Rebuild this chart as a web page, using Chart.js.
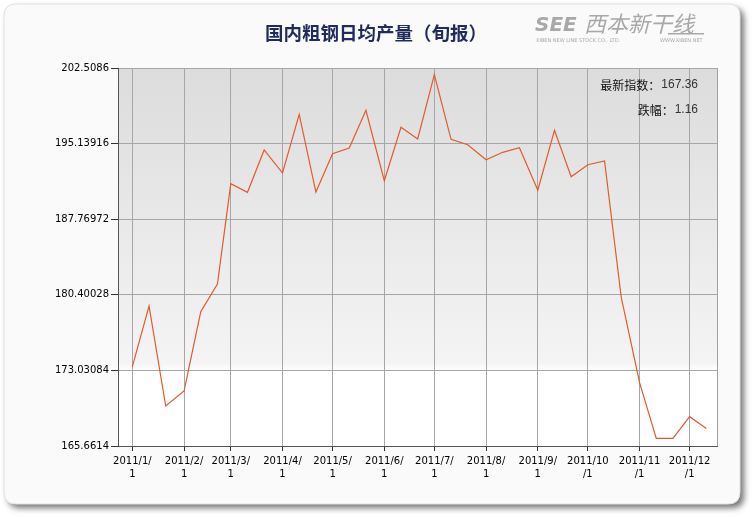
<!DOCTYPE html>
<html>
<head>
<meta charset="utf-8">
<script src="https://cdn.jsdelivr.net/npm/chart.js@4/dist/chart.umd.min.js"></script>
<style>
html,body{margin:0;padding:0;background:#fff;}
#wrap{width:752px;height:517px;position:relative;}
</style>
</head>
<body>
<div id="wrap"><canvas id="c" width="752" height="517"></canvas></div>
<script>
// ---- data ----
const chartTitle = '国内粗钢日均产量（旬报）';
const dates = [
  '2011-01-01','2011-01-11','2011-01-21',
  '2011-02-01','2011-02-11','2011-02-21',
  '2011-03-01','2011-03-11','2011-03-21',
  '2011-04-01','2011-04-11','2011-04-21',
  '2011-05-01','2011-05-11','2011-05-21',
  '2011-06-01','2011-06-11','2011-06-21',
  '2011-07-01','2011-07-11','2011-07-21',
  '2011-08-01','2011-08-11','2011-08-21',
  '2011-09-01','2011-09-11','2011-09-21',
  '2011-10-01','2011-10-11','2011-10-21',
  '2011-11-01','2011-11-11','2011-11-21',
  '2011-12-01','2011-12-11'
];
const output = [
  173.39, 179.31, 169.56,
  171.02, 178.75, 181.45,
  191.23, 190.39, 194.52,
  192.27, 197.99, 190.42,
  194.16, 194.71, 198.39,
  191.52, 196.73, 195.59,
  201.86, 195.56, 195.03,
  193.57, 194.29, 194.74,
  190.59, 196.44, 191.91,
  193.08, 193.44, 180.16,
  171.83, 166.41, 166.41,
  168.52, 167.36
];
const yTickValues = [165.6614, 173.03084, 180.40028, 187.76972, 195.13916, 202.5086];
const yTickLabels = ['165.6614', '173.03084', '180.40028', '187.76972', '195.13916', '202.5086'];
const xTickDates = ['2011-01-01','2011-02-01','2011-03-01','2011-04-01','2011-05-01','2011-06-01',
                    '2011-07-01','2011-08-01','2011-09-01','2011-10-01','2011-11-01','2011-12-01'];
const xTickLabels = [
  ['2011/1/','1'],['2011/2/','1'],['2011/3/','1'],['2011/4/','1'],['2011/5/','1'],['2011/6/','1'],
  ['2011/7/','1'],['2011/8/','1'],['2011/9/','1'],['2011/10','/1'],['2011/11','/1'],['2011/12','/1']
];
const latestLabel = '最新指数：';
const latestValue = '167.36';
const changeLabel = '跌幅：';
const changeValue = '1.16';

// ---- helpers ----
const base = Date.UTC(2011, 0, 1);
function dayNum(s){ const p = s.split('-').map(Number); return (Date.UTC(p[0], p[1]-1, p[2]) - base) / 86400000; }
const points = dates.map((d, i) => ({ x: dayNum(d), y: output[i] }));
const xTickDays = xTickDates.map(dayNum);

function roundRect(ctx, x, y, w, h, r){
  ctx.beginPath();
  ctx.moveTo(x+r, y);
  ctx.lineTo(x+w-r, y); ctx.quadraticCurveTo(x+w, y, x+w, y+r);
  ctx.lineTo(x+w, y+h-r); ctx.quadraticCurveTo(x+w, y+h, x+w-r, y+h);
  ctx.lineTo(x+r, y+h); ctx.quadraticCurveTo(x, y+h, x, y+h-r);
  ctx.lineTo(x, y+r); ctx.quadraticCurveTo(x, y, x+r, y);
  ctx.closePath();
}

const decor = {
  id: 'decor',
  beforeDraw(chart){
    const ctx = chart.ctx, a = chart.chartArea;
    ctx.save();
    ctx.fillStyle = '#ffffff';
    ctx.fillRect(0, 0, chart.width, chart.height);
    // panel with shadow
    ctx.shadowColor = 'rgba(0,0,0,0.55)';
    ctx.shadowBlur = 6;
    ctx.shadowOffsetX = 4;
    ctx.shadowOffsetY = 4;
    roundRect(ctx, 4, 4, 736, 500, 12);
    ctx.fillStyle = '#fafafa';
    ctx.fill();
    ctx.shadowColor = 'transparent';
    ctx.strokeStyle = '#e2e2e2';
    ctx.lineWidth = 1;
    ctx.stroke();
    // plot background gradient
    const g = ctx.createLinearGradient(0, a.top, 0, a.bottom);
    g.addColorStop(0, '#dcdcdc');
    g.addColorStop(0.78, '#f4f4f4');
    g.addColorStop(0.80, '#ffffff');
    g.addColorStop(1, '#ffffff');
    ctx.fillStyle = g;
    ctx.fillRect(a.left, a.top, a.right - a.left, a.bottom - a.top);
    ctx.restore();
  },
  afterDraw(chart){
    const ctx = chart.ctx, a = chart.chartArea;
    ctx.save();
    // right border
    ctx.strokeStyle = '#a0a0a0';
    ctx.lineWidth = 1;
    ctx.beginPath();
    ctx.moveTo(Math.round(a.right) + 0.5, a.top);
    ctx.lineTo(Math.round(a.right) + 0.5, a.bottom);
    ctx.stroke();
    // title
    ctx.fillStyle = '#1f2b5e';
    ctx.font = 'bold 18.5px "Noto Sans CJK SC"';
    ctx.textAlign = 'center';
    ctx.textBaseline = 'middle';
    ctx.fillText(chartTitle, 376, 33);
    // annotations
    ctx.textAlign = 'right';
    ctx.textBaseline = 'middle';
    const vx = 698;
    ctx.font = '12px "Liberation Sans"';
    const w1 = ctx.measureText(latestValue).width;
    const w2 = ctx.measureText(changeValue).width;
    ctx.fillStyle = '#333';
    ctx.fillText(latestValue, vx, 85);
    ctx.fillText(changeValue, vx, 110);
    ctx.font = '12px "Noto Sans CJK SC"';
    ctx.fillStyle = '#111';
    ctx.fillText(latestLabel, vx - w1 - 1, 85);
    ctx.fillText(changeLabel, vx - w2 - 1, 110);
    // logo
    ctx.fillStyle = '#a8a8a8';
    ctx.textAlign = 'left';
    ctx.textBaseline = 'alphabetic';
    ctx.font = 'italic bold 20px "DejaVu Sans"';
    ctx.fillText('SEE', 535, 31);
    ctx.font = 'italic 22px "Noto Sans CJK SC"';
    ctx.fillText('西本新干线', 584, 32);
    ctx.fillRect(668, 33, 36, 1.5);
    ctx.font = '5px "DejaVu Sans"';
    ctx.fillText('XIBEN NEW LINE STOCK CO., LTD.', 536, 42);
    ctx.fillText('WWW.XIBEN.NET', 660, 42);
    ctx.restore();
  }
};

new Chart(document.getElementById('c'), {
  type: 'line',
  data: {
    datasets: [{
      data: points,
      borderColor: '#e25a2c',
      borderWidth: 1.2,
      pointRadius: 0,
      tension: 0,
      fill: false
    }]
  },
  options: {
    responsive: false,
    animation: false,
    events: [],
    layout: { padding: { left: 8, right: 35, top: 68, bottom: 21 } },
    plugins: { legend: { display: false }, tooltip: { enabled: false }, title: { display: false } },
    scales: {
      x: {
        type: 'linear',
        min: -8.6,
        max: 350.4,
        afterBuildTicks(scale){ scale.ticks = xTickDays.map(v => ({ value: v })); },
        afterFit(scale){ scale.height = 50; },
        ticks: {
          autoSkip: false,
          maxRotation: 0,
          padding: 4,
          color: '#000',
          font: { family: '"DejaVu Sans"', size: 10, lineHeight: 1.3 },
          callback(v, i){ return xTickLabels[i]; }
        },
        grid: { color: '#a6a6a6', lineWidth: 1, tickColor: '#333', tickLength: 5, drawTicks: true },
        border: { color: '#555', width: 1 }
      },
      y: {
        type: 'linear',
        min: yTickValues[0],
        max: yTickValues[yTickValues.length - 1],
        afterBuildTicks(scale){ scale.ticks = yTickValues.map(v => ({ value: v })); },
        afterFit(scale){ scale.width = 110; },
        ticks: {
          autoSkip: false,
          padding: 2,
          color: '#000',
          font: { family: '"DejaVu Sans"', size: 10 },
          callback(v, i){ return yTickLabels[i]; }
        },
        grid: { color: '#a6a6a6', lineWidth: 1, tickColor: '#333', tickLength: 7, drawTicks: true },
        border: { color: '#555', width: 1 }
      }
    }
  },
  plugins: [decor]
});
</script>
</body>
</html>
